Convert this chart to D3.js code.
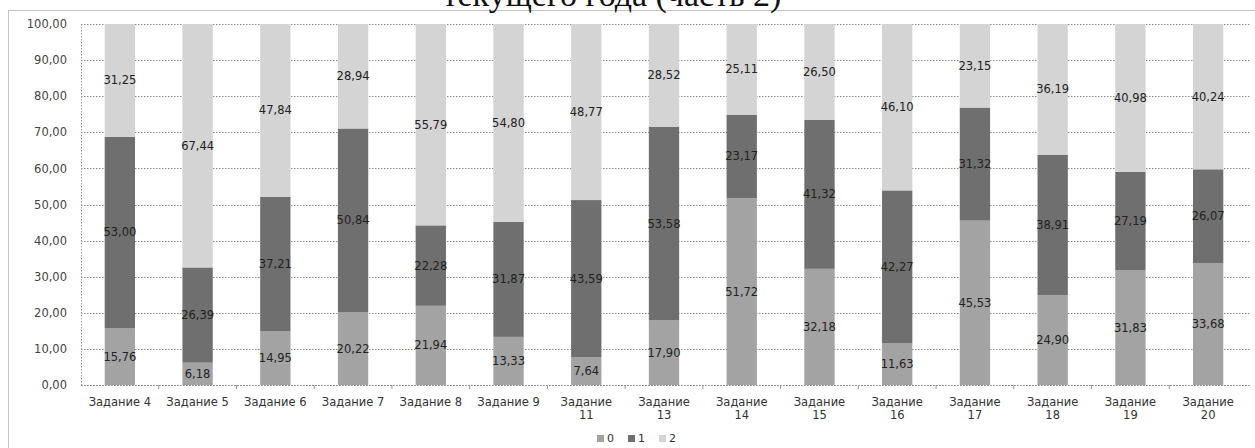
<!DOCTYPE html>
<html>
<head>
<meta charset="utf-8">
<script src="https://cdn.jsdelivr.net/npm/d3@7"></script>
<style>
  body { margin: 0; background: #fff; }
  text { font-family: "DejaVu Sans", Verdana, sans-serif; }
</style>
</head>
<body>
<div id="chart"></div>
<script>
// chart data
const categories = ["Задание 4", "Задание 5", "Задание 6", "Задание 7", "Задание 8", "Задание 9",
    "Задание 11", "Задание 13", "Задание 14", "Задание 15", "Задание 16", "Задание 17",
    "Задание 18", "Задание 19", "Задание 20"];
const series0 = [15.76, 6.18, 14.95, 20.22, 21.94, 13.33, 7.64, 17.90, 51.72, 32.18, 11.63, 45.53, 24.90, 31.83, 33.68];
const series1 = [53.00, 26.39, 37.21, 50.84, 22.28, 31.87, 43.59, 53.58, 23.17, 41.32, 42.27, 31.32, 38.91, 27.19, 26.07];
const series2 = [31.25, 67.44, 47.84, 28.94, 55.79, 54.80, 48.77, 28.52, 25.11, 26.50, 46.10, 23.15, 36.19, 40.98, 40.24];
const seriesNames = ["0", "1", "2"];
const yTicks = [0, 10, 20, 30, 40, 50, 60, 70, 80, 90, 100];
const titleText = "текущего года (часть 2)";

const width = 1255;
const height = 448;
const colors = ["#a3a3a3", "#6f6f6f", "#d4d4d4"];

const svg = d3.select("#chart")
    .append("svg")
    .attr("width", width)
    .attr("height", height)
    .style("background-color", "#fff");

// outer chart frame (dotted, like the scan)
svg.append("rect")
    .attr("x", 8.5).attr("y", 10.5)
    .attr("width", 1300).attr("height", 500)
    .attr("fill", "none")
    .attr("stroke", "#888")
    .attr("stroke-dasharray", "1,1");

// title, only its lower half shows in the scan
svg.append("text")
    .attr("x", 612).attr("y", 6)
    .attr("text-anchor", "middle")
    .style("font-family", "'Liberation Serif', 'DejaVu Serif', serif")
    .style("font-size", "34px")
    .attr("fill", "#111")
    .text(titleText);

const x = d3.scaleBand()
    .domain(categories)
    .range([81, 1247])
    .paddingInner(0.61)
    .paddingOuter(0.305);

const y = d3.scaleLinear()
    .domain([0, 100])
    .range([385, 24]);

// grid lines
svg.append("g")
    .selectAll("line")
    .data(yTicks)
    .enter().append("line")
    .attr("x1", 81).attr("x2", 1250)
    .attr("y1", d => Math.round(y(d)) + 0.5)
    .attr("y2", d => Math.round(y(d)) + 0.5)
    .attr("stroke", "#8a8a8a")
    .attr("stroke-dasharray", "1.5,1.5");

// y axis
const yAxis = svg.append("g")
    .attr("transform", "translate(81,0)")
    .call(d3.axisLeft(y).tickValues(yTicks).tickSize(0).tickPadding(14)
        .tickFormat(d => d3.format(".2f")(d).replace(".", ",")));
yAxis.select(".domain")
    .attr("stroke", "#999")
    .attr("stroke-dasharray", "1.5,1.5");
yAxis.selectAll("text")
    .style("font-family", "'DejaVu Sans', Verdana, sans-serif")
    .style("font-size", "11.5px")
    .attr("fill", "#444");

// stacked bars
const rows = categories.map((c, i) => ({ cat: c, s0: series0[i], s1: series1[i], s2: series2[i] }));
const stacked = d3.stack().keys(["s0", "s1", "s2"])(rows);

const layer = svg.append("g")
    .selectAll("g")
    .data(stacked)
    .enter().append("g")
    .attr("fill", (d, i) => colors[i]);

layer.selectAll("rect")
    .data(d => d)
    .enter().append("rect")
    .attr("x", d => x(d.data.cat))
    .attr("y", d => y(d[1]))
    .attr("width", x.bandwidth())
    .attr("height", d => y(d[0]) - y(d[1]));

// value labels, centred in each segment
layer.selectAll("text")
    .data(d => d)
    .enter().append("text")
    .attr("x", d => x(d.data.cat) + x.bandwidth() / 2)
    .attr("y", d => y((d[0] + d[1]) / 2) + 4)
    .attr("text-anchor", "middle")
    .style("font-size", "11.5px")
    .attr("fill", "#222")
    .text(d => d3.format(".2f")(d[1] - d[0]).replace(".", ","));

// x axis with ticks between categories
svg.append("line")
    .attr("x1", 81).attr("x2", 1250)
    .attr("y1", 385.5).attr("y2", 385.5)
    .attr("stroke", "#888")
    .attr("stroke-dasharray", "1.5,1.5");

svg.append("g")
    .selectAll("line")
    .data(categories.slice(1))
    .enter().append("line")
    .attr("x1", d => x(d) - x.step() * x.paddingInner() / 2)
    .attr("x2", d => x(d) - x.step() * x.paddingInner() / 2)
    .attr("y1", 385).attr("y2", 389)
    .attr("stroke", "#999");

const catLabels = svg.append("g")
    .selectAll("text")
    .data(categories)
    .enter().append("text")
    .attr("x", d => x(d) + x.bandwidth() / 2)
    .attr("y", 406)
    .attr("text-anchor", "middle")
    .style("font-size", "11.5px")
    .attr("fill", "#333");

catLabels.each(function(d) {
    const parts = d.split(" ");
    const el = d3.select(this);
    if (parts[1].length > 1) {
        el.append("tspan").attr("x", x(d) + x.bandwidth() / 2).text(parts[0]);
        el.append("tspan").attr("x", x(d) + x.bandwidth() / 2).attr("dy", 12.5).text(parts[1]);
    } else {
        el.text(d);
    }
});

// legend
const legend = svg.append("g")
    .attr("transform", "translate(597,442)");

const item = legend.selectAll("g")
    .data(seriesNames)
    .enter().append("g")
    .attr("transform", (d, i) => `translate(${i * 31},0)`);

item.append("rect")
    .attr("x", 0).attr("y", -7)
    .attr("width", 7).attr("height", 7)
    .attr("fill", (d, i) => colors[i]);

item.append("text")
    .attr("x", 10).attr("y", 0)
    .style("font-size", "11px")
    .attr("fill", "#333")
    .text(d => d);
</script>
</body>
</html>
